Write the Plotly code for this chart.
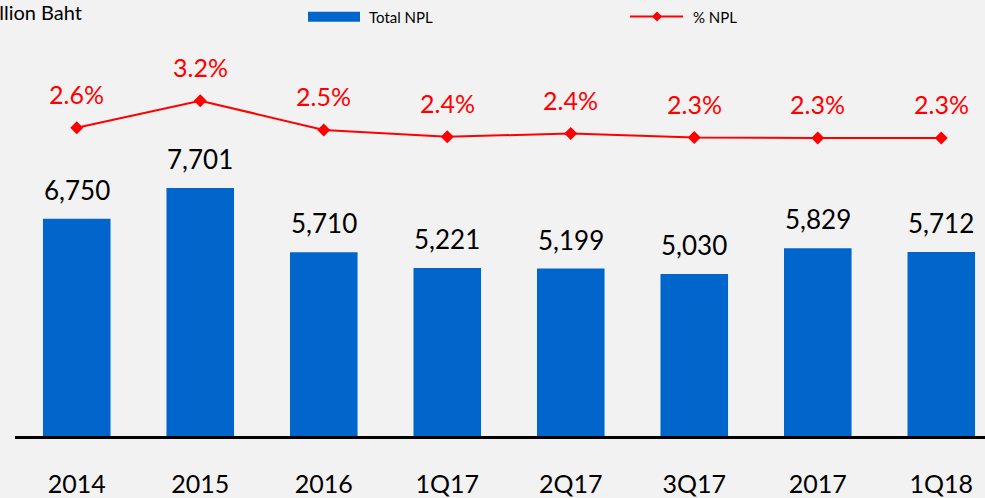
import plotly.graph_objects as go

# ---- data ----
categories = ["2014", "2015", "2016", "1Q17", "2Q17", "3Q17", "2017", "1Q18"]
total_npl = [6750, 7701, 5710, 5221, 5199, 5030, 5829, 5712]
pct_npl = [2.58, 3.18, 2.53, 2.38, 2.45, 2.36, 2.35, 2.35]
pct_labels = ["2.6%", "3.2%", "2.5%", "2.4%", "2.4%", "2.3%", "2.3%", "2.3%"]

BLUE = "#0066CC"
RED = "#FF0000"
BG = "#F2F2F2"
FONT = "Lato"

W, H = 985, 498
ML, MR, MT, MB = 15, 0, 40, 62
PW, PH = W - ML - MR, H - MT - MB


def px2x(px):
    return (px - ML) / PW


def py2y(py):
    return (H - MB - py) / PH


fig = go.Figure()
fig.add_bar(
    x=categories, y=total_npl, name="Total NPL",
    marker=dict(color=BLUE, line=dict(width=0)),
    width=0.547, yaxis="y", showlegend=False,
)
fig.add_scatter(
    x=categories, y=pct_npl, name="% NPL", mode="lines+markers",
    line=dict(color=RED, width=2),
    marker=dict(symbol="diamond", size=10, color=RED),
    yaxis="y2", showlegend=False, cliponaxis=False,
)

annotations = []
for i, v in enumerate(total_npl):
    annotations.append(dict(
        x=i, y=v, xref="x", yref="y", text=f"{v:,}", showarrow=False,
        yanchor="middle", yshift=29, font=dict(family=FONT, size=26, color="#000000"),
    ))
for i, (v, t) in enumerate(zip(pct_npl, pct_labels)):
    annotations.append(dict(
        x=i, y=v, xref="x", yref="y2", text=t, showarrow=False,
        yanchor="middle", yshift=34, font=dict(family=FONT, size=25, color=RED),
    ))

# unit label (cropped at the left edge like the reference)
annotations.append(dict(
    x=px2x(84), y=py2y(12), xref="paper", yref="paper", text="Million Baht",
    showarrow=False, xanchor="right", yanchor="middle",
    font=dict(family=FONT, size=20, color="#000000"),
))

# custom legend
leg_y = py2y(16.5)
annotations.append(dict(
    x=px2x(367), y=leg_y, xref="paper", yref="paper", text="Total NPL",
    showarrow=False, xanchor="left", yanchor="middle",
    font=dict(family=FONT, size=15, color="#000000"),
))
annotations.append(dict(
    x=px2x(691), y=leg_y, xref="paper", yref="paper", text="% NPL",
    showarrow=False, xanchor="left", yanchor="middle",
    font=dict(family=FONT, size=15, color="#000000"),
))

dx, dy = 5 / PW, 5 / PH
cx = px2x(657)
shapes = [
    dict(type="rect", xref="paper", yref="paper",
         x0=px2x(308), x1=px2x(360), y0=py2y(21.7), y1=py2y(11.7),
         fillcolor=BLUE, line=dict(width=0)),
    dict(type="line", xref="paper", yref="paper",
         x0=px2x(630), x1=px2x(683), y0=leg_y, y1=leg_y,
         line=dict(color=RED, width=2)),
    dict(type="path", xref="paper", yref="paper",
         path=f"M{cx - dx},{leg_y} L{cx},{leg_y + dy} L{cx + dx},{leg_y} L{cx},{leg_y - dy} Z",
         fillcolor=RED, line=dict(width=0)),
]

fig.update_layout(
    width=W, height=H,
    margin=dict(l=ML, r=MR, t=MT, b=MB, pad=0),
    paper_bgcolor=BG, plot_bgcolor=BG,
    font=dict(family=FONT, color="#000000"),
    showlegend=False,
    xaxis=dict(
        type="category", range=[-0.5, 7.354],
        showline=True, linecolor="#000000", linewidth=3,
        showgrid=False, zeroline=False, ticks="",
        tickfont=dict(family=FONT, size=25, color="#000000"),
        ticklabelstandoff=24,
    ),
    yaxis=dict(range=[0, 12298], visible=False, showgrid=False, zeroline=False),
    yaxis2=dict(range=[-4.271, 4.529], overlaying="y", visible=False,
                showgrid=False, zeroline=False),
    annotations=annotations,
    shapes=shapes,
)

fig.write_html(
    "out.html",
    config={"displayModeBar": False},
    post_script="document.body.style.margin='0';document.body.style.overflow='hidden';document.body.style.background='#F2F2F2';",
)
